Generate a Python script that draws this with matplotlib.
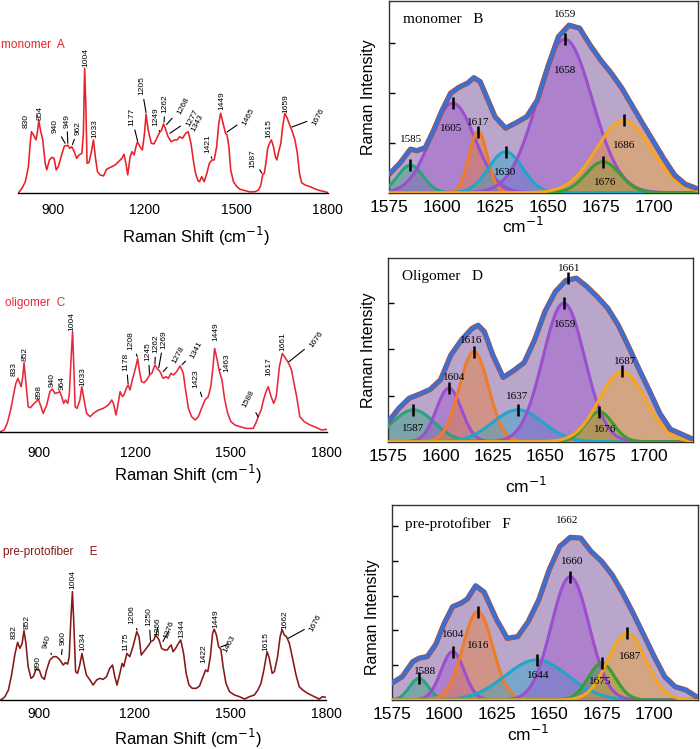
import numpy as np
import matplotlib
matplotlib.use("Agg")
import matplotlib.pyplot as plt

plt.rcParams["font.family"] = ["Liberation Sans", "DejaVu Sans"]

W, H = 700, 749

# ---------------- left column: Raman spectra (relative intensity) ----------------
A_x = [788, 799, 810, 820, 826, 830, 836, 845, 850, 854, 860, 867, 875, 880, 889, 897, 904,
       911, 918, 927, 937, 940, 946, 949, 955, 962, 970, 978, 986, 995, 1000, 1004, 1008,
       1012, 1018, 1025, 1033, 1039, 1046, 1055, 1066, 1075, 1082, 1093, 1104, 1115, 1126,
       1133, 1140, 1145, 1153, 1159, 1166, 1172, 1177, 1185, 1193, 1200, 1205, 1212, 1222,
       1231, 1240, 1249, 1256, 1262, 1268, 1277, 1287, 1298, 1307, 1315, 1324, 1335, 1343,
       1352, 1360, 1367, 1375, 1380, 1387, 1395, 1404, 1412, 1421, 1428, 1436, 1443, 1449,
       1457, 1465, 1470, 1476, 1482, 1491, 1502, 1513, 1529, 1545, 1562, 1573, 1580, 1587,
       1592, 1597, 1603, 1609, 1615, 1622, 1628, 1633, 1639, 1646, 1652, 1659, 1667, 1676,
       1684, 1692, 1700, 1707, 1714, 1725, 1742, 1758, 1775, 1790, 1800]
A_y = [0.005, 0.04, 0.093, 0.213, 0.40, 0.493, 0.47, 0.427, 0.50, 0.581, 0.50, 0.427, 0.24,
       0.187, 0.267, 0.288, 0.28, 0.187, 0.213, 0.293, 0.373, 0.38, 0.381, 0.385, 0.36, 0.373,
       0.333, 0.28, 0.307, 0.32, 0.48, 1.0, 0.70, 0.24, 0.245, 0.32, 0.427, 0.293, 0.173,
       0.147, 0.139, 0.19, 0.2, 0.213, 0.227, 0.253, 0.28, 0.312, 0.227, 0.147, 0.293, 0.333,
       0.307, 0.373, 0.413, 0.373, 0.347, 0.48, 0.632, 0.507, 0.40, 0.395, 0.44, 0.485, 0.507,
       0.555, 0.52, 0.453, 0.413, 0.427, 0.427, 0.453, 0.44, 0.48, 0.493, 0.40, 0.26, 0.16,
       0.10, 0.093, 0.133, 0.093, 0.16, 0.24, 0.267, 0.267, 0.373, 0.56, 0.64, 0.56, 0.48,
       0.467, 0.373, 0.187, 0.093, 0.053, 0.032, 0.021, 0.011, 0.013, 0.027, 0.06, 0.15, 0.16,
       0.24, 0.36, 0.40, 0.427, 0.373, 0.293, 0.267, 0.333, 0.40, 0.533, 0.64, 0.60, 0.54,
       0.49, 0.43, 0.32, 0.16, 0.085, 0.067, 0.053, 0.035, 0.021, 0.013, 0.005]

C_x = [777, 790, 800, 810, 819, 826, 833, 838, 843, 848, 852, 858, 865, 872, 880, 890, 897,
       905, 912, 923, 933, 940, 949, 957, 964, 970, 976, 982, 989, 994, 998, 1004, 1008, 1012,
       1018, 1027, 1033, 1040, 1048, 1059, 1069, 1085, 1100, 1116, 1127, 1132, 1140, 1145,
       1153, 1160, 1165, 1172, 1178, 1184, 1191, 1200, 1208, 1213, 1220, 1228, 1236, 1245,
       1252, 1262, 1269, 1278, 1288, 1297, 1304, 1312, 1320, 1330, 1341, 1351, 1358, 1367,
       1377, 1388, 1398, 1408, 1419, 1429, 1437, 1444, 1449, 1456, 1463, 1472, 1480, 1490,
       1500, 1513, 1528, 1549, 1570, 1580, 1588, 1595, 1602, 1610, 1617, 1626, 1634, 1642,
       1652, 1661, 1670, 1680, 1690, 1698, 1706, 1716, 1730, 1748, 1769, 1784, 1800]
C_y = [0.0, 0.017, 0.09, 0.217, 0.367, 0.48, 0.533, 0.49, 0.45, 0.55, 0.69, 0.483, 0.25, 0.24,
       0.27, 0.30, 0.323, 0.25, 0.183, 0.267, 0.40, 0.427, 0.383, 0.39, 0.40, 0.35, 0.283,
       0.317, 0.283, 0.383, 0.65, 1.0, 0.65, 0.25, 0.233, 0.317, 0.45, 0.317, 0.183, 0.15,
       0.183, 0.217, 0.233, 0.267, 0.317, 0.283, 0.167, 0.25, 0.40, 0.35, 0.367, 0.43, 0.467,
       0.417, 0.517, 0.62, 0.733, 0.617, 0.50, 0.49, 0.517, 0.567, 0.583, 0.667, 0.633, 0.60,
       0.533, 0.55, 0.533, 0.583, 0.567, 0.60, 0.657, 0.583, 0.417, 0.233, 0.15, 0.117, 0.15,
       0.233, 0.317, 0.35, 0.45, 0.65, 0.833, 0.733, 0.617, 0.517, 0.333, 0.183, 0.10, 0.067,
       0.05, 0.033, 0.033, 0.10, 0.17, 0.22, 0.317, 0.40, 0.45, 0.35, 0.283, 0.35, 0.65,
       0.783, 0.74, 0.69, 0.617, 0.48, 0.35, 0.15, 0.10, 0.067, 0.04, 0.017, 0.023]

E_x = [777, 782, 792, 803, 813, 824, 832, 839, 846, 852, 858, 865, 874, 881, 890, 900, 907,
       916, 923, 933, 944, 954, 965, 975, 982, 989, 994, 999, 1004, 1008, 1014, 1020, 1027,
       1034, 1041, 1048, 1059, 1069, 1080, 1090, 1100, 1111, 1121, 1130, 1137, 1144, 1153,
       1160, 1165, 1175, 1184, 1194, 1206, 1213, 1220, 1228, 1236, 1244, 1250, 1259, 1266,
       1276, 1284, 1293, 1302, 1309, 1314, 1320, 1328, 1338, 1344, 1353, 1361, 1370, 1380,
       1393, 1403, 1414, 1422, 1429, 1437, 1444, 1449, 1456, 1463, 1470, 1477, 1486, 1497,
       1513, 1528, 1544, 1560, 1575, 1586, 1596, 1605, 1615, 1622, 1631, 1638, 1648, 1656,
       1662, 1669, 1676, 1685, 1695, 1706, 1716, 1727, 1742, 1763, 1779, 1789, 1798]
E_y = [0.0, 0.006, 0.03, 0.092, 0.23, 0.43, 0.532, 0.477, 0.52, 0.64, 0.523, 0.308, 0.2,
       0.215, 0.286, 0.277, 0.215, 0.19, 0.277, 0.369, 0.40, 0.40, 0.369, 0.323, 0.345, 0.332,
       0.40, 0.738, 1.0, 0.738, 0.262, 0.246, 0.323, 0.43, 0.323, 0.23, 0.185, 0.138, 0.185,
       0.20, 0.19, 0.215, 0.292, 0.323, 0.215, 0.138, 0.246, 0.338, 0.308, 0.43, 0.40, 0.492,
       0.63, 0.585, 0.415, 0.446, 0.477, 0.508, 0.538, 0.554, 0.60, 0.554, 0.477, 0.462,
       0.462, 0.492, 0.508, 0.446, 0.477, 0.529, 0.554, 0.43, 0.246, 0.138, 0.108, 0.108,
       0.129, 0.215, 0.277, 0.262, 0.40, 0.615, 0.655, 0.60, 0.492, 0.468, 0.308, 0.154,
       0.077, 0.046, 0.031, 0.009, 0.031, 0.046, 0.092, 0.154, 0.277, 0.446, 0.385, 0.246,
       0.262, 0.40, 0.585, 0.652, 0.60, 0.585, 0.523, 0.385, 0.23, 0.123, 0.092, 0.062,
       0.031, 0.009, 0.031, 0.025]

# peak labels: (text, text x, text y, rotation, leader end or None)
A_labels = [
    ("830", 812, 0.58, 90, None), ("854", 858, 0.645, 90, None),
    ("940", 908, 0.54, 90, (940, 0.40)), ("949", 946, 0.58, 90, (949, 0.40)),
    ("962", 984, 0.52, 90, (964, 0.39)), ("1004", 1008, 1.088, 90, None),
    ("1033", 1038, 0.52, 90, None), ("1177", 1158, 0.613, 90, (1177, 0.42)),
    ("1205", 1190, 0.86, 90, (1205, 0.645)), ("1249", 1238, 0.61, 90, (1249, 0.495)),
    ("1262", 1267, 0.72, 90, (1264, 0.57)), ("1268", 1327, 0.70, 62, (1272, 0.55)),
    ("1277", 1355, 0.60, 62, (1283, 0.48)), ("1343", 1373, 0.565, 62, None),
    ("1421", 1406, 0.40, 90, (1420, 0.28)), ("1449", 1452, 0.74, 90, None),
    ("1465", 1540, 0.61, 62, (1470, 0.49)), ("1587", 1554, 0.28, 90, (1584, 0.16)),
    ("1615", 1606, 0.52, 90, None), ("1659", 1663, 0.72, 90, None),
    ("1676", 1769, 0.61, 62, (1682, 0.53)),
]
C_labels = [
    ("833", 821, 0.63, 90, None), ("852", 855, 0.78, 90, None),
    ("898", 900, 0.40, 90, None), ("940", 939, 0.52, 90, None),
    ("964", 970, 0.49, 90, None), ("1004", 1001, 1.10, 90, None),
    ("1033", 1036, 0.55, 90, None), ("1178", 1172, 0.70, 90, (1178, 0.48)),
    ("1208", 1186, 0.91, 90, (1207, 0.75)), ("1245", 1241, 0.80, 90, (1245, 0.58)),
    ("1262", 1265, 0.88, 90, (1262, 0.68)), ("1269", 1290, 0.92, 90, (1274, 0.64)),
    ("1278", 1335, 0.77, 62, (1288, 0.60)), ("1341", 1393, 0.82, 62, (1347, 0.67)),
    ("1423", 1391, 0.53, 90, (1409, 0.35)), ("1449", 1452, 1.00, 90, None),
    ("1463", 1487, 0.69, 90, (1466, 0.62)), ("1588", 1555, 0.33, 62, (1585, 0.15)),
    ("1617", 1620, 0.65, 90, None), ("1661", 1664, 0.90, 90, None),
    ("1676", 1768, 0.92, 55, (1682, 0.70)),
]
E_labels = [
    ("832", 821, 0.63, 90, None), ("852", 863, 0.72, 90, None),
    ("890", 895, 0.34, 90, None), ("940", 923, 0.54, 75, (938, 0.42)),
    ("960", 975, 0.57, 90, (970, 0.42)), ("1004", 1004, 1.11, 90, None),
    ("1034", 1038, 0.54, 90, None), ("1175", 1173, 0.54, 90, None),
    ("1206", 1189, 0.785, 90, (1207, 0.645)), ("1250", 1244, 0.77, 90, (1249, 0.55)),
    ("1266", 1273, 0.68, 90, (1267, 0.61)), ("1276", 1309, 0.65, 70, (1288, 0.54)),
    ("1344", 1346, 0.66, 90, None), ("1422", 1417, 0.43, 90, None),
    ("1449", 1453, 0.75, 90, None), ("1463", 1497, 0.52, 62, (1470, 0.49)),
    ("1615", 1612, 0.54, 90, None), ("1662", 1670, 0.74, 90, None),
    ("1676", 1768, 0.71, 62, (1682, 0.57)),
]

# ---------------- right column: amide I band fits ----------------
B_x = [1575, 1580, 1585, 1588, 1592, 1596, 1600, 1604, 1608, 1612, 1615, 1618, 1621, 1625,
       1630, 1635, 1640, 1645, 1650, 1655, 1660, 1665, 1670, 1675, 1680, 1685, 1690, 1695,
       1700, 1705, 1710, 1715, 1720]
B_env = [0.37, 0.59, 0.87, 0.84, 0.90, 1.25, 1.65, 1.99, 2.11, 2.19, 2.30, 2.22, 1.92, 1.52,
         1.29, 1.40, 1.52, 1.85, 2.52, 3.12, 3.35, 3.29, 2.95, 2.65, 2.39, 2.09, 1.73, 1.37,
         1.02, 0.67, 0.35, 0.17, 0.09]
B_center = [1585, 1605, 1617, 1630, 1658, 1676, 1686]
B_height = [0.55, 1.79, 1.22, 0.82, 3.07, 0.62, 1.45]
B_sigma = [6.0, 10.5, 4.3, 8.0, 13.0, 8.0, 13.0]

D_x = [1575, 1580, 1585, 1590, 1595, 1600, 1605, 1610, 1615, 1618, 1621, 1625, 1630, 1635,
       1640, 1645, 1650, 1655, 1660, 1665, 1670, 1675, 1680, 1685, 1690, 1695, 1700, 1705,
       1710, 1715, 1720]
D_env = [0.43, 0.72, 0.94, 1.03, 1.13, 1.34, 1.88, 2.20, 2.45, 2.52, 2.38, 1.88, 1.39, 1.54,
         1.71, 2.20, 2.82, 3.25, 3.49, 3.54, 3.36, 3.14, 2.89, 2.53, 2.06, 1.57, 1.10, 0.61,
         0.27, 0.17, 0.07]
D_center = [1587, 1604, 1616, 1637, 1659, 1676, 1687]
D_height = [0.69, 1.16, 1.95, 0.69, 3.00, 0.65, 1.52]
D_sigma = [10.0, 6.0, 7.0, 12.0, 10.0, 6.5, 11.0]

F_x = [1575, 1580, 1585, 1588, 1592, 1596, 1600, 1604, 1608, 1611, 1615, 1619, 1625, 1630,
       1635, 1640, 1645, 1650, 1655, 1660, 1665, 1670, 1675, 1680, 1685, 1690, 1695, 1700,
       1705, 1710, 1715, 1720]
F_env = [0.48, 0.67, 1.10, 1.20, 1.25, 1.60, 2.20, 2.68, 2.78, 2.90, 3.28, 3.10, 2.30, 1.77,
         1.82, 2.25, 2.87, 3.74, 4.41, 4.67, 4.65, 4.26, 3.98, 3.59, 3.07, 2.49, 1.87, 1.25,
         0.67, 0.38, 0.29, 0.10]
F_center = [1588, 1604, 1616, 1644, 1660, 1675, 1687]
F_height = [0.62, 1.39, 2.54, 1.15, 3.54, 1.05, 1.92]
F_sigma = [4.5, 5.5, 7.1, 15.0, 9.0, 6.5, 9.0]

comp_colors = ["#29a37c", "#9b4fcf", "#ef7b2b", "#1fa6c9", "#9b4fcf", "#3b9b35", "#f7a51e"]

# label positions for the fits: (text, x, y)
B_text = [("1585", 1585.5, 1.07), ("1605", 1604, 1.29), ("1617", 1617, 1.40), ("1630", 1630, 0.40),
          ("1659", 1658, 3.56), ("1658", 1658, 2.44), ("1686", 1686, 0.95), ("1676", 1677, 0.20)]
D_text = [("1661", 1661.5, 3.76), ("1659", 1659.5, 2.53), ("1616", 1614.5, 2.20),
          ("1604", 1606.5, 1.39), ("1637", 1636.5, 0.97), ("1687", 1688.5, 1.73),
          ("1676", 1679, 0.27), ("1587", 1587, 0.29)]
F_text = [("1662", 1658.5, 5.15), ("1660", 1661, 3.97), ("1604", 1604.5, 1.89),
          ("1616", 1616, 1.56), ("1588", 1591, 0.81), ("1644", 1645, 0.69),
          ("1675", 1674.5, 0.53), ("1687", 1688.5, 1.26)]

fig = plt.figure(figsize=(W / 100, H / 100), dpi=100)


def px_axes(left, top, right, bottom):
    return fig.add_axes([left / W, 1 - bottom / H, (right - left) / W, (bottom - top) / H])


def ftext(px, py, s, **kw):
    fig.text(px / W, 1 - py / H, s, **kw)


def spectrum(box, x, y, xlim, color, labels, tick_pad):
    ax = px_axes(*box)
    ax.plot(x, y, color=color, lw=1.15)
    ax.set_xlim(*xlim)
    ax.set_ylim(0, 1.3)
    for s in ["top", "right", "left"]:
        ax.spines[s].set_visible(False)
    ax.spines["bottom"].set_linewidth(1.0)
    ax.set_yticks([])
    ax.set_xticks([900, 1200, 1500, 1800])
    ax.tick_params(axis="x", length=0, pad=tick_pad, labelsize=10)
    ax.patch.set_alpha(0)
    for txt, tx, ty, rot, end in labels:
        if end is None:
            ax.text(tx, ty, txt, rotation=rot, ha="center", va="center", fontsize=6,
                    clip_on=False)
        else:
            ax.annotate(txt, xy=end, xytext=(tx, ty), rotation=rot, ha="center",
                        va="center", fontsize=6, annotation_clip=False,
                        arrowprops=dict(arrowstyle="-", color="black", lw=0.8,
                                        shrinkA=1, shrinkB=0))
    return ax


def gauss(xx, c, h, s):
    return h * np.exp(-0.5 * ((xx - c) / s) ** 2)


def bandfit(box, ymax, yticks, x, env, centers, heights, sigmas, texts, title):
    ax = px_axes(*box)
    xx = np.linspace(1575, 1722, 600)
    ax.fill_between(x, 0, env, color="#bba6cb", lw=0, zorder=1)
    for c, h, s, col in zip(centers, heights, sigmas, comp_colors):
        g = gauss(xx, c, h, s)
        ax.fill_between(xx, 0, g, color=col, alpha=0.42, lw=0, zorder=2)
    for c, h, s, col in zip(centers, heights, sigmas, comp_colors):
        ax.plot(xx, gauss(xx, c, h, s), color=col, lw=2.2, zorder=3)
    ax.plot(x, env, color="#c9421c", lw=3.8, zorder=4, solid_capstyle="round")
    ax.plot(x, env, color="#3d6fd1", lw=3.0, zorder=5, solid_capstyle="round")
    ax.plot(centers, heights, ls="none", marker="|", ms=9, mew=1.8, color="black", zorder=6)
    for txt, tx, ty in texts:
        ax.text(tx, ty, txt, ha="center", va="center", fontsize=8,
                family="Liberation Serif", zorder=7)
    ax.text(0.045, 0.9, title, transform=ax.transAxes, ha="left", va="center",
            fontsize=11, family="Liberation Serif", zorder=7)
    ax.set_xlim(1575, 1721)
    ax.set_ylim(0, ymax)
    ax.set_xticks([1575, 1600, 1625, 1650, 1675, 1700])
    ax.set_yticks(yticks)
    ax.set_yticklabels([])
    ax.tick_params(axis="x", length=0, pad=5, labelsize=12.5)
    ax.tick_params(axis="y", direction="in", length=4, width=1)
    for sp in ax.spines.values():
        sp.set_linewidth(1.0)
        sp.set_color("#333333")
    return ax


# left column
red = "#ea1f27"
dark = "#861818"
spectrum((18.3, 30.8, 327.9, 193.3), A_x, A_y, (787, 1800), red, A_labels, 7)
ftext(1, 45, "monomer  A", color=red, fontsize=8.5, va="center")
ftext(196, 236, "Raman Shift (cm$^{-1}$)", fontsize=12, ha="center", va="center")

spectrum((0.1, 301.7, 327.3, 431.7), C_x, C_y, (777, 1802), "#e8283a", C_labels, 10)
ftext(5, 303, "oligomer  C", color="#e8283a", fontsize=8.5, va="center")
ftext(188, 474, "Raman Shift (cm$^{-1}$)", fontsize=12, ha="center", va="center")

spectrum((0.1, 559.2, 326.0, 700.0), E_x, E_y, (777, 1800), dark, E_labels, 5)
ftext(3, 552, "pre-protofiber     E", color=dark, fontsize=8.5, va="center")
ftext(188, 738, "Raman Shift (cm$^{-1}$)", fontsize=12, ha="center", va="center")

# right column
axB = bandfit((389.3, 0.7, 698.0, 192.7), 3.84, [1, 2, 3], B_x, B_env,
              B_center, B_height, B_sigma, B_text, "monomer   B")
ftext(368, 97, "Raman Intensity", fontsize=11.5, rotation=90, ha="center", va="center")
ftext(523, 226, "cm$^{-1}$", fontsize=12.5, ha="center", va="center")

axD = bandfit((388.3, 258.3, 693.3, 441.7), 3.97, [1, 2, 3], D_x, D_env,
              D_center, D_height, D_sigma, D_text, "Oligomer   D")
axD.plot([1661], [max(D_env)], ls="none", marker="|", ms=9, mew=1.8, color="black", zorder=6)
ftext(368, 350, "Raman Intensity", fontsize=11.5, rotation=90, ha="center", va="center")
ftext(526, 486, "cm$^{-1}$", fontsize=12.5, ha="center", va="center")

axF = bandfit((391.7, 505.0, 698.3, 700.0), 5.6, [1, 2, 3, 4, 5], F_x, F_env,
              F_center, F_height, F_sigma, F_text, "pre-protofiber   F")
ftext(372, 617, "Raman Intensity", fontsize=11.5, rotation=90, ha="center", va="center")
ftext(528, 734, "cm$^{-1}$", fontsize=12.5, ha="center", va="center")

fig.savefig("out.png", dpi=100)
